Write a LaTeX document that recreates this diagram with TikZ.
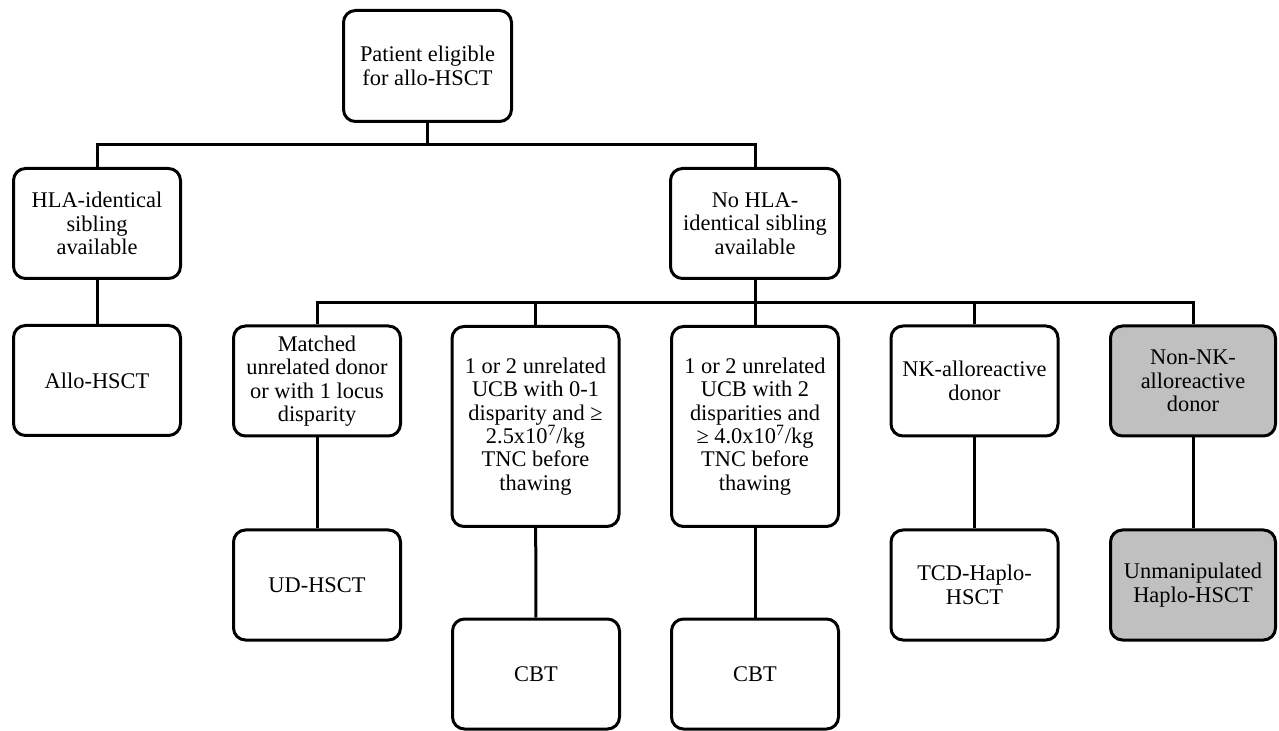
\documentclass[tikz,border=0pt]{standalone}
\usepackage{fontspec}
\setmainfont{Liberation Serif}
\usepackage{xcolor}
\usepackage{tikz}

\definecolor{haplogray}{RGB}{192,192,192}

\tikzset{
  box/.style={draw, line width=1.5pt, rounded corners=6pt, align=center,
    inner sep=2pt, minimum width=83.5pt, minimum height=55pt,
    font=\fontsize{11.2}{11.7}\selectfont},
  tallbox/.style={box, minimum height=100pt},
  greybox/.style={box, fill=haplogray},
  link/.style={line width=1.5pt}
}

\begin{document}
\begin{tikzpicture}[x=0.5pt,y=-0.5pt]
\useasboundingbox (0,0) rectangle (1279,731);

%%    NODES   %%
\node [box, minimum width=84pt, minimum height=55.5pt] (00) at (427.5,66) {Patient eligible\\for allo-HSCT};

\node [box] (10) at (97,223.5) {HLA-identical\\sibling\\available};
\node [box, minimum width=84.5pt] (11) at (755,223.5) {No HLA-\\identical sibling\\available};

\node [box] (20) at (97,380.5) {Allo-HSCT};
\node [box] (21) at (317,381) {Matched\\unrelated donor\\or with 1 locus\\disparity};
\node [tallbox] (22) at (535.5,426.5) {1 or 2 unrelated\\UCB with 0-1\\disparity and ≥\\2.5x10\textsuperscript{7}/kg\\TNC before\\thawing};
\node [tallbox] (23) at (755,426.5) {1 or 2 unrelated\\UCB with 2\\disparities and\\≥ 4.0x10\textsuperscript{7}/kg\\TNC before\\thawing};
\node [box] (24) at (974.5,381) {NK-alloreactive\\donor};
\node [greybox, minimum width=82.5pt] (25) at (1193,381) {Non-NK-\\alloreactive\\donor};

\node [box] (30) at (317,585) {UD-HSCT};
\node [box] (31) at (536,674) {CBT};
\node [box] (32) at (755,674) {CBT};
\node [box] (33) at (974.5,585) {TCD-Haplo-\\HSCT};
\node [greybox, minimum width=82.5pt] (34) at (1193,585) {Unmanipulated\\Haplo-HSCT};

%%    LINES    %%
\draw [link] (00.south) -- ++(0,22) -| (10.north);
\draw [link] (00.south) -- ++(0,22) -| (11.north);
\draw [link] (10) -- (20);

\draw [link] (11.south) -- ++(0,23) -| (21.north);
\draw [link] (11.south) -- ++(0,23) -| (22.north);
\draw [link] (11.south) -- (23.north);
\draw [link] (11.south) -- ++(0,23) -| (24.north);
\draw [link] (11.south) -- ++(0,23) -| (25.north);

\draw [link] (21) -- (30);
\draw [link] (22) -- (31);
\draw [link] (23) -- (32);
\draw [link] (24) -- (33);
\draw [link] (25) -- (34);

\end{tikzpicture}
\end{document}
